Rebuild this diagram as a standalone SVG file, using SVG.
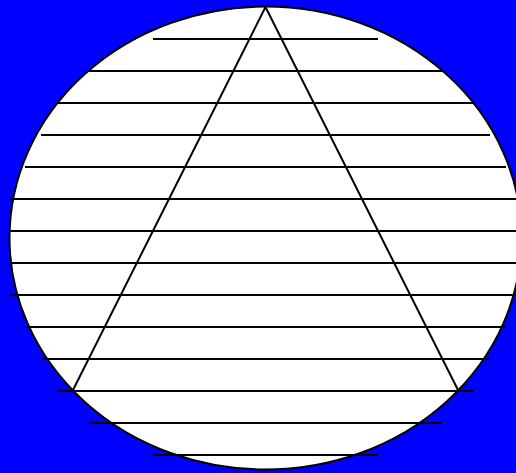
<svg xmlns="http://www.w3.org/2000/svg" width="516" height="473" viewBox="0 0 516 473">
<style>
.l{stroke:#000;stroke-width:2;fill:none}
</style>
<rect width="516" height="473" fill="#0000FF"/>
<g id="ellipse"><ellipse cx="265.5" cy="238" rx="256" ry="231.5" fill="#fff" stroke="#000" stroke-width="2"/></g>
<g id="lines" class="l">
<line x1="153" y1="39" x2="378" y2="39"/>
<line x1="89" y1="71" x2="442" y2="71"/>
<line x1="58" y1="103" x2="473" y2="103"/>
<line x1="41" y1="135" x2="490" y2="135"/>
<line x1="25" y1="167" x2="506" y2="167"/>
<line x1="9" y1="199" x2="522" y2="199"/>
<line x1="10" y1="231" x2="521" y2="231"/>
<line x1="10" y1="263" x2="521" y2="263"/>
<line x1="9" y1="295" x2="522" y2="295"/>
<line x1="25" y1="327" x2="506" y2="327"/>
<line x1="41" y1="359" x2="490" y2="359"/>
<line x1="57" y1="391" x2="474" y2="391"/>
<line x1="89" y1="423" x2="442" y2="423"/>
<line x1="153" y1="455" x2="378" y2="455"/>
</g>
<g id="triangle"><polygon class="l" points="265.5,7 72.5,391 458.5,391"/></g>
</svg>
